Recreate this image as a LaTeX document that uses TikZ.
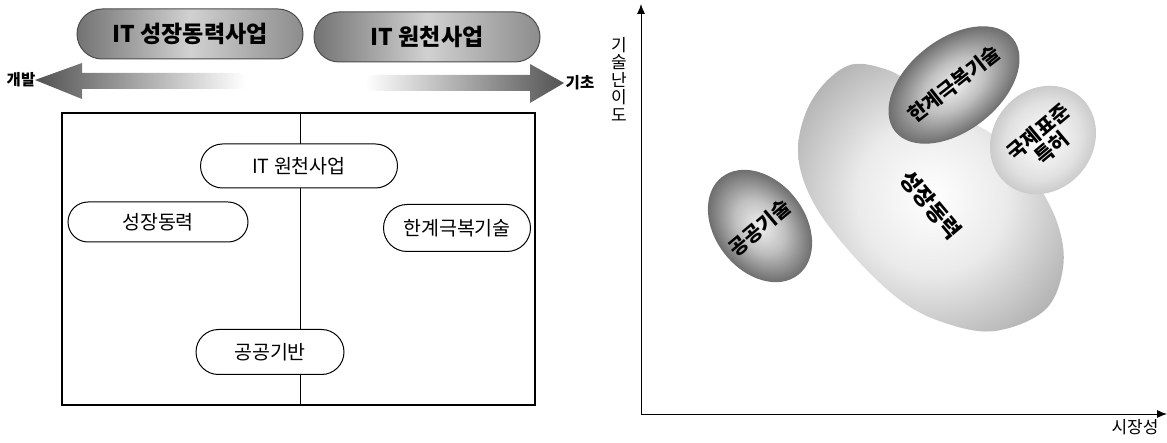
\documentclass[tikz,border=0pt]{standalone}
\usepackage{fontspec}
\setmainfont{Noto Sans CJK KR}
\usetikzlibrary{shapes.misc,shapes.geometric,arrows.meta}
\pgfdeclareradialshading{darkegg}{\pgfpoint{0bp}{0bp}}{color(0bp)=(black!6); color(12bp)=(black!25); color(32bp)=(black!74); color(50bp)=(black!90)}
\pgfdeclareradialshading{lightblob}{\pgfpoint{0bp}{0bp}}{color(0bp)=(white); color(14bp)=(black!8); color(34bp)=(black!36); color(50bp)=(black!60)}
\pgfdeclareradialshading{midegg}{\pgfpoint{0bp}{0bp}}{color(0bp)=(white); color(18bp)=(black!12); color(38bp)=(black!36); color(50bp)=(black!52)}
\begin{document}
\begin{tikzpicture}[x=1pt,y=-1pt,
  toppill/.style={rounded rectangle, draw=black!70, line width=1pt, left color=black!55, right color=black!45, middle color=black!18, minimum height=50pt, inner sep=0pt, font=\bfseries\fontsize{23}{23}\selectfont},
  pillbox/.style={rounded rectangle, draw, line width=1pt, fill=white, inner sep=0pt, font=\fontsize{19.5}{19.5}\selectfont},
  sidelabel/.style={inner sep=0pt, font=\bfseries\fontsize{15.5}{15.5}\selectfont},
  axislabel/.style={inner sep=0pt, align=center, font=\fontsize{17}{17.5}\selectfont},
  blobtext/.style={inner sep=0pt, align=center, font=\bfseries\fontsize{20}{21}\selectfont},
  axisline/.style={line width=0.9pt, -{Latex[length=10pt,width=8pt]}}
]
\useasboundingbox (0,0) rectangle (1167,443);

% ---------- left part ----------
\node[toppill, minimum width=226pt] (tp1) at (190,34) {IT 성장동력사업};
\node[toppill, minimum width=226pt] (tp2) at (427,37) {IT 원천사업};

% block arrows
\shade[left color=black!68, right color=white] (35,80) -- (82,63) -- (82,73) -- (245,73) -- (245,89) -- (82,89) -- (82,99) -- cycle;
\shade[left color=white, right color=black!68] (564,83) -- (530,64) -- (530,75) -- (365,75) -- (365,91) -- (530,91) -- (530,103) -- cycle;
\node[sidelabel] (dev) at (21,80) {개발};
\node[sidelabel] (base) at (580,83) {기초};

% frame
\coordinate (ftop) at (300,113);
\coordinate (fbot) at (300,405);
\draw[line width=1.3pt] (62,113) rectangle (535,405);
\draw[line width=1pt] (ftop) -- (fbot);

\node[pillbox, minimum width=197pt, minimum height=44pt] (src) at (299,166) {IT 원천사업};
\node[pillbox, minimum width=180pt, minimum height=40pt] (grow) at (158,222) {성장동력};
\node[pillbox, minimum width=147pt, minimum height=47pt] (limit) at (457,228) {한계극복기술};
\node[pillbox, minimum width=148pt, minimum height=45pt] (pub) at (270,352) {공공기반};

% ---------- right part ----------
\coordinate (O) at (641,414);
\coordinate (ytip) at (641,4);
\coordinate (xtip) at (1167,414);
\draw[axisline] (O) -- (ytip);
\draw[axisline] (O) -- (xtip);
\node[axislabel] (ylab) at (619,79) {기\\술\\난\\이\\도};
\node[axislabel] (xlab) at (1135,427) {시장성};

% big blob
\shade[shading=lightblob] plot[smooth cycle, tension=0.6] coordinates {
 (798,150) (812,100) (847,66) (885,69) (915,86) (950,113) (982,128) (1005,145)
 (1035,180) (1058,225) (1063,268) (1045,310) (995,331) (945,323) (900,300) (850,252) (812,200)};

% ellipses
\begin{scope}[transform canvas={rotate around={50:(1043,140)}}]
  \shade[shading=midegg] (1043,140) ellipse [x radius=57pt, y radius=50pt];
\end{scope}
\begin{scope}[transform canvas={rotate around={38:(954,85)}}]
  \shade[shading=darkegg] (954,85) ellipse [x radius=75pt, y radius=46pt];
\end{scope}
\begin{scope}[transform canvas={rotate around={128:(760,226)}}]
  \shade[shading=darkegg] (760,226) ellipse [x radius=62pt, y radius=45pt];
\end{scope}

\node[blobtext, rotate=38] (tlimit) at (954,84) {한계극복기술};
\node[blobtext, rotate=40] (tstd) at (1045,140) {국제표준\\특허};
\node[blobtext, rotate=40] (tpub) at (760,228) {공공기술};
\node[blobtext, rotate=-50, font=\bfseries\fontsize{22}{22}\selectfont] (tgrow) at (931,205) {성장동력};
\end{tikzpicture}
\end{document}
